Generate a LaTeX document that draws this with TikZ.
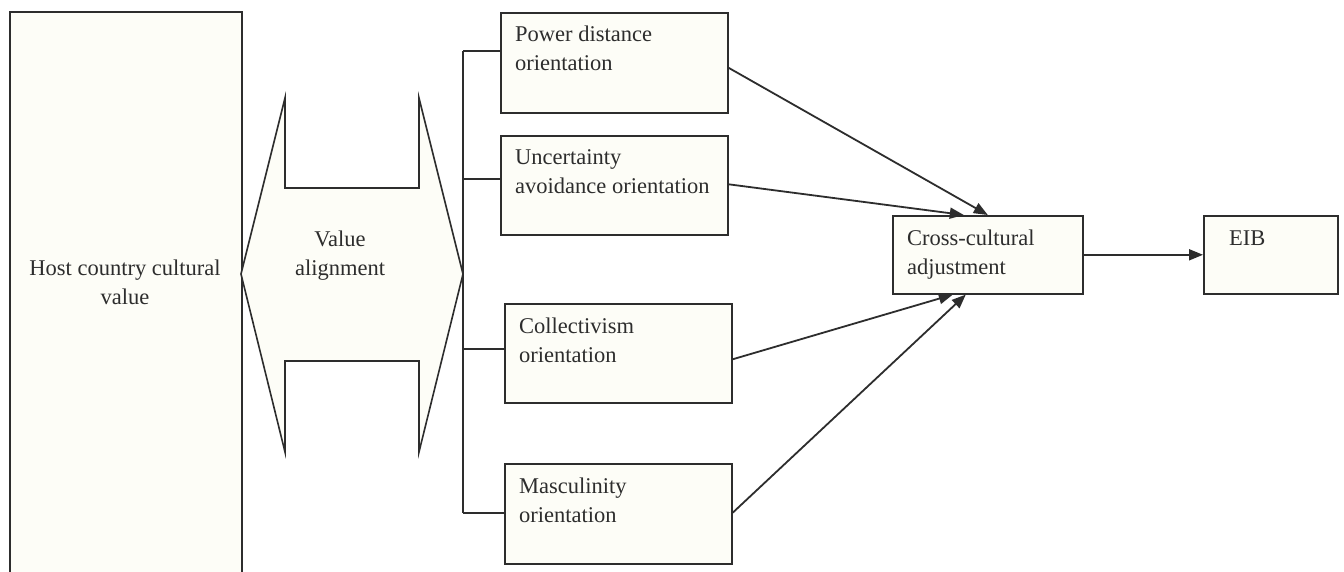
\documentclass[tikz,border=0pt]{standalone}
\usepackage{fontspec}
\setmainfont{Liberation Serif}
\usetikzlibrary{arrows.meta,calc}
\definecolor{ink}{RGB}{45,45,45}
\definecolor{cream}{RGB}{253,253,247}
\begin{document}
\begin{tikzpicture}[x=1pt,y=-1pt,
  box/.style={draw=ink,fill=cream,line width=1.6pt,inner sep=0pt,anchor=north west},
  lbl/.style={text=ink,inner sep=0pt,font=\fontsize{22.5}{29}\selectfont},
  conn/.style={draw=ink,line width=1.6pt},
  arr/.style={draw=ink,line width=1.8pt,-{Triangle[length=14pt,width=11pt]}}]
\clip (0,0) rectangle (1344,572);
\fill[white] (0,0) rectangle (1344,572);

% host culture column (the label positions give the baseline of the last line)
\node[box,minimum width=232,minimum height=575] (host) at (9,11) {};
\node[lbl,align=center,anchor=base] (hostt) at (125,304) {Host country cultural\\value};

% double-headed alignment arrow
\draw[draw=ink,fill=cream,line width=1.6pt,line join=miter] (241,274) -- (285,98) -- (285,188) -- (419,188) -- (419,98)
  -- (463,274) -- (419,452) -- (419,361) -- (285,361) -- (285,452) -- cycle;
\node[lbl,align=center,anchor=base] (va) at (340,276) {Value\\alignment};

% cultural orientation boxes
\node[box,minimum width=227,minimum height=100] (pd) at (500,12) {};
\node[box,minimum width=227,minimum height=99] (ua) at (500,135) {};
\node[box,minimum width=227,minimum height=99] (co) at (504,303) {};
\node[box,minimum width=227,minimum height=100] (ma) at (504,463) {};
\node[lbl,align=left,anchor=base west] (pdt) at (515,71) {Power distance\\orientation};
\node[lbl,align=left,anchor=base west] (uat) at (515,194) {Uncertainty\\avoidance orientation};
\node[lbl,align=left,anchor=base west] (cot) at (519,362) {Collectivism\\orientation};
\node[lbl,align=left,anchor=base west] (mat) at (519,522) {Masculinity\\orientation};

% outcomes
\node[box,minimum width=190,minimum height=78] (cc) at (892,215) {};
\node[box,minimum width=134,minimum height=78] (eib) at (1203,215) {};
\node[lbl,align=left,anchor=base west] (cct) at (907,274) {Cross-cultural\\adjustment};
\node[lbl,anchor=base west] (eibt) at (1229,245) {EIB};

% bracket linking the alignment arrow to the orientations
\coordinate (b1) at (463,51);
\coordinate (b2) at (463,179);
\coordinate (b3) at (463,349);
\coordinate (b4) at (463,513);
\draw[conn] (b1) -- (b4);
\draw[conn] (b1) -- (pd.west |- b1);
\draw[conn] (b2) -- (ua.west |- b2);
\draw[conn] (b3) -- (co.west |- b3);
\draw[conn] (b4) -- (ma.west |- b4);

% paths into adjustment and on to EIB (y grows downward, so a negative yshift lowers a point)
\draw[arr] ([yshift=-5]pd.east) -- (cc.north);
\draw[arr] ([yshift=1]ua.east) -- ([xshift=-24]cc.north);
\draw[arr] ([yshift=-6]co.east) -- ([xshift=-35]cc.south);
\draw[arr] ([yshift=1]ma.east) -- ([xshift=-22]cc.south);
\draw[arr] (cc.east) -- (eib.west);
\end{tikzpicture}
\end{document}
